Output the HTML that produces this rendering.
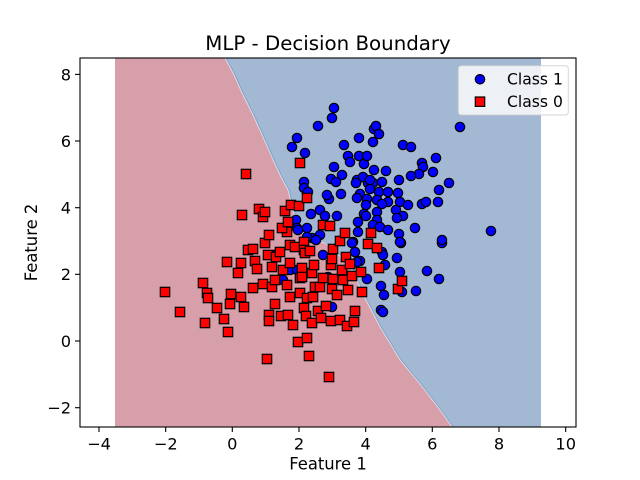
<!DOCTYPE html>
<html>
<head>
<meta charset="utf-8">
<style>
html,body{margin:0;padding:0;background:#fff;}
svg{display:block;}
text{font-family:"DejaVu Sans","Liberation Sans",sans-serif;fill:#000;}
</style>
</head>
<body>
<svg width="640" height="480" viewBox="0 0 640 480" xmlns="http://www.w3.org/2000/svg">
<rect x="0" y="0" width="640" height="480" fill="#fff"/>
<!-- contour regions -->
<rect x="115" y="58" width="426" height="369" fill="#a3b9d3"/>
<polygon fill="#d69fa9" points="115,58 225,58 233,73 242,93 252,113 263,137 273,160 280,175 288,190 293,210 296,222 300,232 312,240 325,243 340,256 352,270 360,287 366,300 380,327 400,360 420,384 440,410 452,427 115,427"/>
<polyline fill="none" stroke="#7aa7d3" stroke-width="1" points="226.2,58 234.2,73 243.2,93 253.2,113 264.2,137 274.2,160 281.2,175 289.2,190 294.2,210 297.2,222 301.2,232 313.2,240 326.2,243 341.2,256 353.2,270 361.2,287 367.2,300 381.2,327 401.2,360 421.2,384 441.2,410 453.2,427"/>
<polyline fill="none" stroke="#ead9dd" stroke-width="0.9" points="225,58 233,73 242,93 252,113 263,137 273,160 280,175 288,190 293,210 296,222 300,232 312,240 325,243 340,256 352,270 360,287 366,300 380,327 400,360 420,384 440,410 452,427"/>

<!-- Class 1 blue circles -->
<g fill="#0000ff" stroke="#000" stroke-width="1.2">
<circle cx="292" cy="147" r="4.7"/><circle cx="297" cy="138" r="4.7"/><circle cx="305" cy="153" r="4.7"/><circle cx="318" cy="126" r="4.7"/>
<circle cx="332" cy="118" r="4.7"/><circle cx="334" cy="108" r="4.7"/><circle cx="344" cy="145" r="4.7"/><circle cx="348" cy="156" r="4.7"/>
<circle cx="350" cy="162" r="4.7"/><circle cx="359" cy="138" r="4.7"/><circle cx="359" cy="156" r="4.7"/><circle cx="364" cy="164" r="4.7"/>
<circle cx="367" cy="156" r="4.7"/><circle cx="373" cy="142" r="4.7"/><circle cx="374" cy="129" r="4.7"/><circle cx="376" cy="126" r="4.7"/>
<circle cx="379" cy="134" r="4.7"/><circle cx="403" cy="145" r="4.7"/><circle cx="411" cy="147" r="4.7"/><circle cx="460" cy="127" r="4.7"/>
<circle cx="436" cy="158" r="4.7"/><circle cx="422" cy="163" r="4.7"/><circle cx="423" cy="167" r="4.7"/><circle cx="433" cy="172" r="4.7"/>
<circle cx="419" cy="174" r="4.7"/><circle cx="411" cy="176" r="4.7"/><circle cx="334" cy="167" r="4.7"/><circle cx="342" cy="175" r="4.7"/>
<circle cx="331" cy="179" r="4.7"/><circle cx="336" cy="182" r="4.7"/><circle cx="357" cy="180" r="4.7"/><circle cx="356" cy="183" r="4.7"/>
<circle cx="368" cy="183" r="4.7"/><circle cx="373" cy="183" r="4.7"/><circle cx="382" cy="182" r="4.7"/><circle cx="386" cy="171" r="4.7"/>
<circle cx="374" cy="170" r="4.7"/><circle cx="399" cy="180" r="4.7"/><circle cx="449" cy="183" r="4.7"/><circle cx="304" cy="182" r="4.7"/>
<circle cx="304" cy="188" r="4.7"/><circle cx="308" cy="192" r="4.7"/><circle cx="370" cy="189" r="4.7"/><circle cx="379" cy="192" r="4.7"/>
<circle cx="388" cy="192" r="4.7"/><circle cx="398" cy="193" r="4.7"/><circle cx="439" cy="190" r="4.7"/><circle cx="360" cy="194" r="4.7"/>
<circle cx="341" cy="194" r="4.7"/><circle cx="329" cy="199" r="4.7"/><circle cx="357" cy="198" r="4.7"/><circle cx="367" cy="199" r="4.7"/>
<circle cx="377" cy="200" r="4.7"/><circle cx="388" cy="202" r="4.7"/><circle cx="400" cy="202" r="4.7"/><circle cx="408" cy="205" r="4.7"/>
<circle cx="422" cy="204" r="4.7"/><circle cx="426" cy="202" r="4.7"/><circle cx="438" cy="202" r="4.7"/><circle cx="366" cy="205" r="4.7"/>
<circle cx="382" cy="204" r="4.7"/><circle cx="396" cy="210" r="4.7"/><circle cx="403" cy="216" r="4.7"/><circle cx="397" cy="218" r="4.7"/>
<circle cx="364" cy="214" r="4.7"/><circle cx="377" cy="212" r="4.7"/><circle cx="311" cy="214" r="4.7"/><circle cx="320" cy="210" r="4.7"/>
<circle cx="325" cy="216" r="4.7"/><circle cx="337" cy="216" r="4.7"/><circle cx="377" cy="220" r="4.7"/><circle cx="358" cy="222" r="4.7"/>
<circle cx="415" cy="228" r="4.7"/><circle cx="373" cy="225" r="4.7"/><circle cx="380" cy="227" r="4.7"/><circle cx="388" cy="230" r="4.7"/>
<circle cx="399" cy="234" r="4.7"/><circle cx="401" cy="243" r="4.7"/><circle cx="442" cy="243" r="4.7"/><circle cx="491" cy="231" r="4.7"/>
<circle cx="358" cy="232" r="4.7"/><circle cx="353" cy="242" r="4.7"/><circle cx="320" cy="235" r="4.7"/><circle cx="312" cy="238" r="4.7"/>
<circle cx="307" cy="228" r="4.7"/><circle cx="296" cy="220" r="4.7"/><circle cx="297" cy="228" r="4.7"/><circle cx="382" cy="252" r="4.7"/>
<circle cx="397" cy="258" r="4.7"/><circle cx="360" cy="261" r="4.7"/><circle cx="327" cy="195" r="4.7"/><circle cx="363" cy="177" r="4.7"/>
<circle cx="370" cy="180" r="4.7"/><circle cx="400" cy="242" r="4.7"/><circle cx="400" cy="272" r="4.7"/><circle cx="402" cy="292" r="4.7"/>
<circle cx="416" cy="291" r="4.7"/><circle cx="427" cy="271" r="4.7"/><circle cx="439" cy="279" r="4.7"/><circle cx="381" cy="286" r="4.7"/>
<circle cx="384" cy="295" r="4.7"/><circle cx="381" cy="310" r="4.7"/><circle cx="383" cy="312" r="4.7"/><circle cx="352" cy="243" r="4.7"/>
<circle cx="357" cy="262" r="4.7"/><circle cx="367" cy="279" r="4.7"/><circle cx="383" cy="255" r="4.7"/><circle cx="385" cy="265" r="4.7"/>
<circle cx="323" cy="255" r="4.7"/><circle cx="328" cy="277" r="4.7"/><circle cx="332" cy="307" r="4.7"/><circle cx="298" cy="230" r="4.7"/>
<circle cx="307" cy="237" r="4.7"/><circle cx="277" cy="254" r="4.7"/><circle cx="290" cy="270" r="4.7"/><circle cx="300" cy="270" r="4.7"/>
<circle cx="283" cy="280" r="4.7"/><circle cx="297" cy="270" r="4.7"/><circle cx="355" cy="252" r="4.7"/><circle cx="366" cy="216" r="4.7"/>
<circle cx="316" cy="240" r="4.7"/><circle cx="442" cy="240" r="4.7"/>
</g>

<!-- Class 0 red squares -->
<g fill="#ff0000" stroke="#000" stroke-width="1.2">
<rect x="160.3" y="287.3" width="9.4" height="9.4"/><rect x="175.3" y="307.3" width="9.4" height="9.4"/><rect x="198.3" y="278.3" width="9.4" height="9.4"/><rect x="202.3" y="288.3" width="9.4" height="9.4"/>
<rect x="203.3" y="293.3" width="9.4" height="9.4"/><rect x="200.3" y="318.3" width="9.4" height="9.4"/><rect x="212.3" y="303.3" width="9.4" height="9.4"/><rect x="219.3" y="314.3" width="9.4" height="9.4"/>
<rect x="223.3" y="327.3" width="9.4" height="9.4"/><rect x="222.3" y="257.3" width="9.4" height="9.4"/><rect x="226.3" y="289.3" width="9.4" height="9.4"/><rect x="225.3" y="299.3" width="9.4" height="9.4"/>
<rect x="233.3" y="268.3" width="9.4" height="9.4"/><rect x="236.3" y="258.3" width="9.4" height="9.4"/><rect x="236.3" y="292.3" width="9.4" height="9.4"/><rect x="237.3" y="210.3" width="9.4" height="9.4"/>
<rect x="239.3" y="302.3" width="9.4" height="9.4"/><rect x="241.3" y="169.3" width="9.4" height="9.4"/><rect x="243.3" y="245.3" width="9.4" height="9.4"/><rect x="248.3" y="244.3" width="9.4" height="9.4"/>
<rect x="248.3" y="283.3" width="9.4" height="9.4"/><rect x="250.3" y="256.3" width="9.4" height="9.4"/><rect x="252.3" y="264.3" width="9.4" height="9.4"/><rect x="254.3" y="204.3" width="9.4" height="9.4"/>
<rect x="258.3" y="212.3" width="9.4" height="9.4"/><rect x="260.3" y="207.3" width="9.4" height="9.4"/><rect x="258.3" y="279.3" width="9.4" height="9.4"/><rect x="260.3" y="238.3" width="9.4" height="9.4"/>
<rect x="262.3" y="354.3" width="9.4" height="9.4"/><rect x="264.3" y="230.3" width="9.4" height="9.4"/><rect x="264.3" y="310.3" width="9.4" height="9.4"/><rect x="264.3" y="316.3" width="9.4" height="9.4"/>
<rect x="263.3" y="250.3" width="9.4" height="9.4"/><rect x="267.3" y="262.3" width="9.4" height="9.4"/><rect x="267.3" y="282.3" width="9.4" height="9.4"/><rect x="270.3" y="299.3" width="9.4" height="9.4"/>
<rect x="270.3" y="275.3" width="9.4" height="9.4"/><rect x="271.3" y="252.3" width="9.4" height="9.4"/><rect x="275.3" y="247.3" width="9.4" height="9.4"/><rect x="276.3" y="311.3" width="9.4" height="9.4"/>
<rect x="278.3" y="265.3" width="9.4" height="9.4"/><rect x="280.3" y="206.3" width="9.4" height="9.4"/><rect x="282.3" y="227.3" width="9.4" height="9.4"/><rect x="277.3" y="223.3" width="9.4" height="9.4"/>
<rect x="283.3" y="217.3" width="9.4" height="9.4"/><rect x="282.3" y="280.3" width="9.4" height="9.4"/><rect x="283.3" y="310.3" width="9.4" height="9.4"/><rect x="285.3" y="292.3" width="9.4" height="9.4"/>
<rect x="285.3" y="258.3" width="9.4" height="9.4"/><rect x="285.3" y="240.3" width="9.4" height="9.4"/><rect x="286.3" y="200.3" width="9.4" height="9.4"/><rect x="288.3" y="320.3" width="9.4" height="9.4"/>
<rect x="290.3" y="242.3" width="9.4" height="9.4"/><rect x="293.3" y="337.3" width="9.4" height="9.4"/><rect x="294.3" y="201.3" width="9.4" height="9.4"/><rect x="295.3" y="158.3" width="9.4" height="9.4"/>
<rect x="295.3" y="273.3" width="9.4" height="9.4"/><rect x="295.3" y="288.3" width="9.4" height="9.4"/><rect x="297.3" y="263.3" width="9.4" height="9.4"/><rect x="297.3" y="272.3" width="9.4" height="9.4"/>
<rect x="299.3" y="237.3" width="9.4" height="9.4"/><rect x="299.3" y="245.3" width="9.4" height="9.4"/><rect x="299.3" y="303.3" width="9.4" height="9.4"/><rect x="300.3" y="248.3" width="9.4" height="9.4"/>
<rect x="301.3" y="311.3" width="9.4" height="9.4"/><rect x="302.3" y="193.3" width="9.4" height="9.4"/><rect x="302.3" y="293.3" width="9.4" height="9.4"/><rect x="302.3" y="333.3" width="9.4" height="9.4"/>
<rect x="304.3" y="351.3" width="9.4" height="9.4"/><rect x="305.3" y="246.3" width="9.4" height="9.4"/><rect x="307.3" y="268.3" width="9.4" height="9.4"/><rect x="307.3" y="318.3" width="9.4" height="9.4"/>
<rect x="308.3" y="292.3" width="9.4" height="9.4"/><rect x="309.3" y="260.3" width="9.4" height="9.4"/><rect x="310.3" y="282.3" width="9.4" height="9.4"/><rect x="313.3" y="306.3" width="9.4" height="9.4"/>
<rect x="315.3" y="282.3" width="9.4" height="9.4"/><rect x="316.3" y="313.3" width="9.4" height="9.4"/><rect x="318.3" y="220.3" width="9.4" height="9.4"/><rect x="318.3" y="273.3" width="9.4" height="9.4"/>
<rect x="321.3" y="301.3" width="9.4" height="9.4"/><rect x="324.3" y="372.3" width="9.4" height="9.4"/><rect x="325.3" y="221.3" width="9.4" height="9.4"/><rect x="326.3" y="260.3" width="9.4" height="9.4"/>
<rect x="326.3" y="316.3" width="9.4" height="9.4"/><rect x="327.3" y="284.3" width="9.4" height="9.4"/><rect x="328.3" y="244.3" width="9.4" height="9.4"/><rect x="328.3" y="274.3" width="9.4" height="9.4"/>
<rect x="327.3" y="254.3" width="9.4" height="9.4"/><rect x="332.3" y="290.3" width="9.4" height="9.4"/><rect x="335.3" y="236.3" width="9.4" height="9.4"/><rect x="335.3" y="315.3" width="9.4" height="9.4"/>
<rect x="337.3" y="265.3" width="9.4" height="9.4"/><rect x="338.3" y="275.3" width="9.4" height="9.4"/><rect x="340.3" y="228.3" width="9.4" height="9.4"/><rect x="341.3" y="252.3" width="9.4" height="9.4"/>
<rect x="342.3" y="321.3" width="9.4" height="9.4"/><rect x="343.3" y="285.3" width="9.4" height="9.4"/><rect x="345.3" y="259.3" width="9.4" height="9.4"/><rect x="347.3" y="271.3" width="9.4" height="9.4"/>
<rect x="349.3" y="317.3" width="9.4" height="9.4"/><rect x="350.3" y="306.3" width="9.4" height="9.4"/><rect x="356.3" y="267.3" width="9.4" height="9.4"/><rect x="357.3" y="287.3" width="9.4" height="9.4"/>
<rect x="363.3" y="239.3" width="9.4" height="9.4"/><rect x="366.3" y="228.3" width="9.4" height="9.4"/><rect x="372.3" y="243.3" width="9.4" height="9.4"/><rect x="374.3" y="263.3" width="9.4" height="9.4"/>
<rect x="393.3" y="284.3" width="9.4" height="9.4"/><rect x="397.3" y="276.3" width="9.4" height="9.4"/>
</g>

<!-- spines -->
<rect x="80" y="58" width="496" height="369" fill="none" stroke="#000" stroke-width="1.1"/>

<!-- x ticks -->
<g stroke="#000" stroke-width="1.1">
<line x1="99" y1="427" x2="99" y2="432"/><line x1="165.7" y1="427" x2="165.7" y2="432"/><line x1="232.3" y1="427" x2="232.3" y2="432"/><line x1="299" y1="427" x2="299" y2="432"/>
<line x1="365.7" y1="427" x2="365.7" y2="432"/><line x1="432.3" y1="427" x2="432.3" y2="432"/><line x1="499" y1="427" x2="499" y2="432"/><line x1="565.7" y1="427" x2="565.7" y2="432"/>
<line x1="75" y1="74.4" x2="80" y2="74.4"/><line x1="75" y1="141" x2="80" y2="141"/><line x1="75" y1="207.7" x2="80" y2="207.7"/><line x1="75" y1="274.3" x2="80" y2="274.3"/>
<line x1="75" y1="341" x2="80" y2="341"/><line x1="75" y1="407.7" x2="80" y2="407.7"/>
</g>
<g font-size="16.2" text-anchor="middle">
<text x="99" y="449.5">−4</text><text x="165.7" y="449.5">−2</text><text x="232.3" y="449.5">0</text><text x="299" y="449.5">2</text>
<text x="365.7" y="449.5">4</text><text x="432.3" y="449.5">6</text><text x="499" y="449.5">8</text><text x="565.7" y="449.5">10</text>
</g>
<g font-size="16.2" text-anchor="end">
<text x="71" y="80.3">8</text><text x="71" y="146.9">6</text><text x="71" y="213.6">4</text><text x="71" y="280.2">2</text>
<text x="71" y="346.9">0</text><text x="71" y="413.6">−2</text>
</g>

<!-- axis labels and title -->
<text x="328" y="469.5" font-size="16.4" text-anchor="middle">Feature 1</text>
<text transform="translate(37,242.5) rotate(-90)" x="0" y="0" font-size="16.4" text-anchor="middle">Feature 2</text>
<text x="328" y="50" font-size="19.8" text-anchor="middle">MLP - Decision Boundary</text>

<!-- legend -->
<rect x="458.3" y="65.7" width="110" height="49.3" rx="3" ry="3" fill="#ffffff" fill-opacity="0.8" stroke="#cccccc" stroke-opacity="0.8" stroke-width="1"/>
<circle cx="480" cy="79.3" r="4.7" fill="#0000ff" stroke="#000" stroke-width="1.2"/>
<rect x="475.3" y="97" width="9.4" height="9.4" fill="#ff0000" stroke="#000" stroke-width="1.2"/>
<text x="507" y="84.5" font-size="15.6">Class 1</text>
<text x="507" y="106.8" font-size="15.6">Class 0</text>
</svg>
</body>
</html>
